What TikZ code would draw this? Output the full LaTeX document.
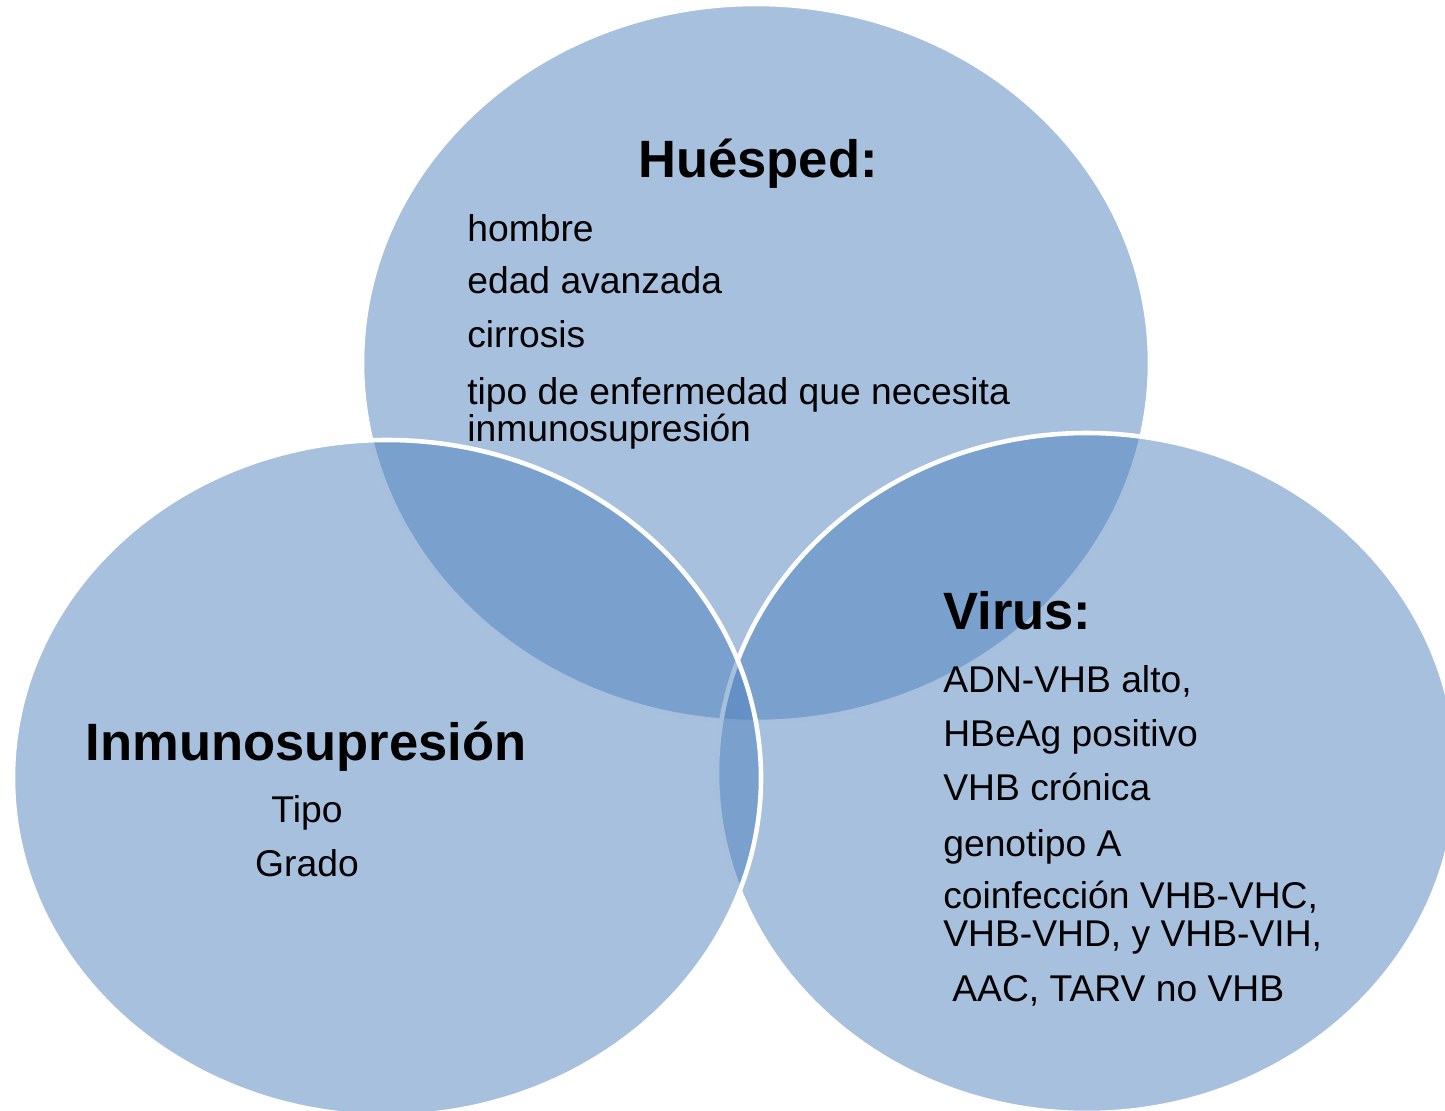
\documentclass[tikz,border=0pt]{standalone}
\usepackage{fontspec}
\setmainfont{Liberation Sans}
\definecolor{vennblue}{HTML}{4F81BD}
\tikzset{
  venn/.style={fill=vennblue,fill opacity=.5,draw=white,line width=2.6pt},
  heading/.style={font=\fontsize{29.9}{36}\selectfont\bfseries,inner sep=0pt},
  item/.style={font=\fontsize{21.2}{21.6}\selectfont,anchor=base west,align=left,inner sep=0pt},
}
\begin{document}
\begin{tikzpicture}[x=.02cm,y=-.02cm]
\useasboundingbox (0,0) rectangle (1445,1111);
\clip (0,0) rectangle (1445,1111);
\draw [venn] (756,363) ellipse [x radius=394, y radius=359];
\draw [venn] (1087,773) ellipse [x radius=370, y radius=340];
\draw [venn] (387,778) ellipse [x radius=374, y radius=338];
\node [heading,anchor=base west] (huesped) at (638,178) {Huésped:};
\node [item] (hombre) at (467,242) {hombre};
\node [item] (edad) at (467,294) {edad avanzada};
\node [item] (cirrosis) at (467,348) {cirrosis};
\node [item] (tipoenf) at (467,442) {tipo de enfermedad que necesita\\inmunosupresión};
\node [heading,anchor=base] (inmuno) at (306,761) {Inmunosupresión};
\node [item,anchor=base] (tipo) at (307,823) {Tipo};
\node [item,anchor=base] (grado) at (307,876) {Grado};
\node [heading,anchor=base west] (virus) at (943,630) {Virus:};
\node [item] (adn) at (943,693) {ADN-VHB alto,};
\node [item] (hbeag) at (943,746) {HBeAg positivo};
\node [item] (cronica) at (943,801) {VHB crónica};
\node [item] (genotipo) at (943,856) {genotipo A};
\node [item] (coinf) at (943,946) {coinfección VHB-VHC,\\VHB-VHD, y VHB-VIH,};
\node [item] (tarv) at (952,1001) {AAC, TARV no VHB};
\end{tikzpicture}
\end{document}
